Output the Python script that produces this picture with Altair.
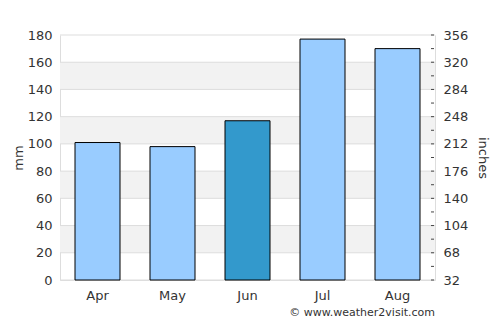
import altair as alt
import pandas as pd

months = ["Apr", "May", "Jun", "Jul", "Aug"]
rain_mm = [101, 98, 117, 177, 170]
highlight = ["no", "no", "yes", "no", "no"]

left_ticks = [0, 20, 40, 60, 80, 100, 120, 140, 160, 180]
band_lo = [20, 60, 100, 140]
band_hi = [40, 80, 120, 160]
right_ticks = [32, 50, 68, 86, 104, 122, 140, 158, 176, 194, 212, 230, 248, 266, 284, 302, 320, 338, 356]
right_labels = [32, 68, 104, 140, 176, 212, 248, 284, 320, 356]
footer_text = ["© www.weather2visit.com"]

FONT = "DejaVu Sans"
TXT = "#333333"

df = pd.DataFrame({"month": months, "mm": rain_mm, "hl": highlight})
bands_df = pd.DataFrame({"lo": band_lo, "hi": band_hi})
grid_df = pd.DataFrame({"v": left_ticks})
rticks_df = pd.DataFrame({"v": right_ticks})
footer_df = pd.DataFrame({"t": footer_text})

yscale = alt.Scale(domain=[0, 180], nice=False)
left_axis = alt.Axis(values=left_ticks, title="mm", grid=False, ticks=False,
                     domainColor="#dddddd", labelColor=TXT, labelFont=FONT, labelFontSize=13,
                     labelPadding=8, titleFont=FONT, titleFontSize=13, titleColor=TXT,
                     titleFontWeight="normal", titlePadding=2)

bands = alt.Chart(bands_df).mark_rect(color="#f2f2f2").encode(
    x=alt.value(0), x2=alt.value(375),
    y=alt.Y("lo:Q", scale=yscale, axis=left_axis), y2="hi:Q")

grid = alt.Chart(grid_df).mark_rule(color="#dddddd", strokeWidth=1).encode(
    x=alt.value(0), x2=alt.value(375),
    y=alt.Y("v:Q", scale=yscale, axis=left_axis))

bars = alt.Chart(df).mark_bar(stroke="black", strokeWidth=1).encode(
    x=alt.X("month:N", sort=months, title=None,
            scale=alt.Scale(paddingInner=0.4, paddingOuter=0.2),
            axis=alt.Axis(ticks=False, labelAngle=0, domainColor="#dddddd",
                          labelColor=TXT, labelFont=FONT, labelFontSize=13, labelPadding=9)),
    y=alt.Y("mm:Q", scale=yscale, axis=left_axis),
    color=alt.Color("hl:N", scale=alt.Scale(domain=["no", "yes"], range=["#99ccff", "#3399cc"]),
                    legend=None))

footer = alt.Chart(footer_df).mark_text(align="right", baseline="middle",
                                        font=FONT, fontSize=11, color=TXT).encode(
    text="t:N", x=alt.value(375), y=alt.value(278))

left = alt.layer(bands, grid, bars, footer)

label_expr = "indexof([" + ",".join(str(v) for v in right_labels) + "], datum.value) >= 0 ? datum.label : ''"
right = alt.Chart(rticks_df).mark_rule(color="#444444", strokeWidth=1).encode(
    x=alt.value(371), x2=alt.value(374),
    y=alt.Y("v:Q", scale=alt.Scale(domain=[32, 356], nice=False, zero=False),
            axis=alt.Axis(orient="right", values=right_ticks, labelExpr=label_expr, title="inches",
                          grid=False, ticks=False, domainColor="#dddddd",
                          labelColor=TXT, labelFont=FONT, labelFontSize=13, labelPadding=8,
                          titleFont=FONT, titleFontSize=13, titleColor=TXT,
                          titleFontWeight="normal", titlePadding=8)))

chart = alt.layer(left, right).resolve_scale(y="independent").properties(
    width=375, height=245,
    padding={"left": 60, "top": 35, "right": 65, "bottom": 45},
    autosize=alt.AutoSizeParams(type="none"),
).configure_view(stroke=None)

chart.save("out.html", embed_options={"renderer": "svg", "actions": False})
